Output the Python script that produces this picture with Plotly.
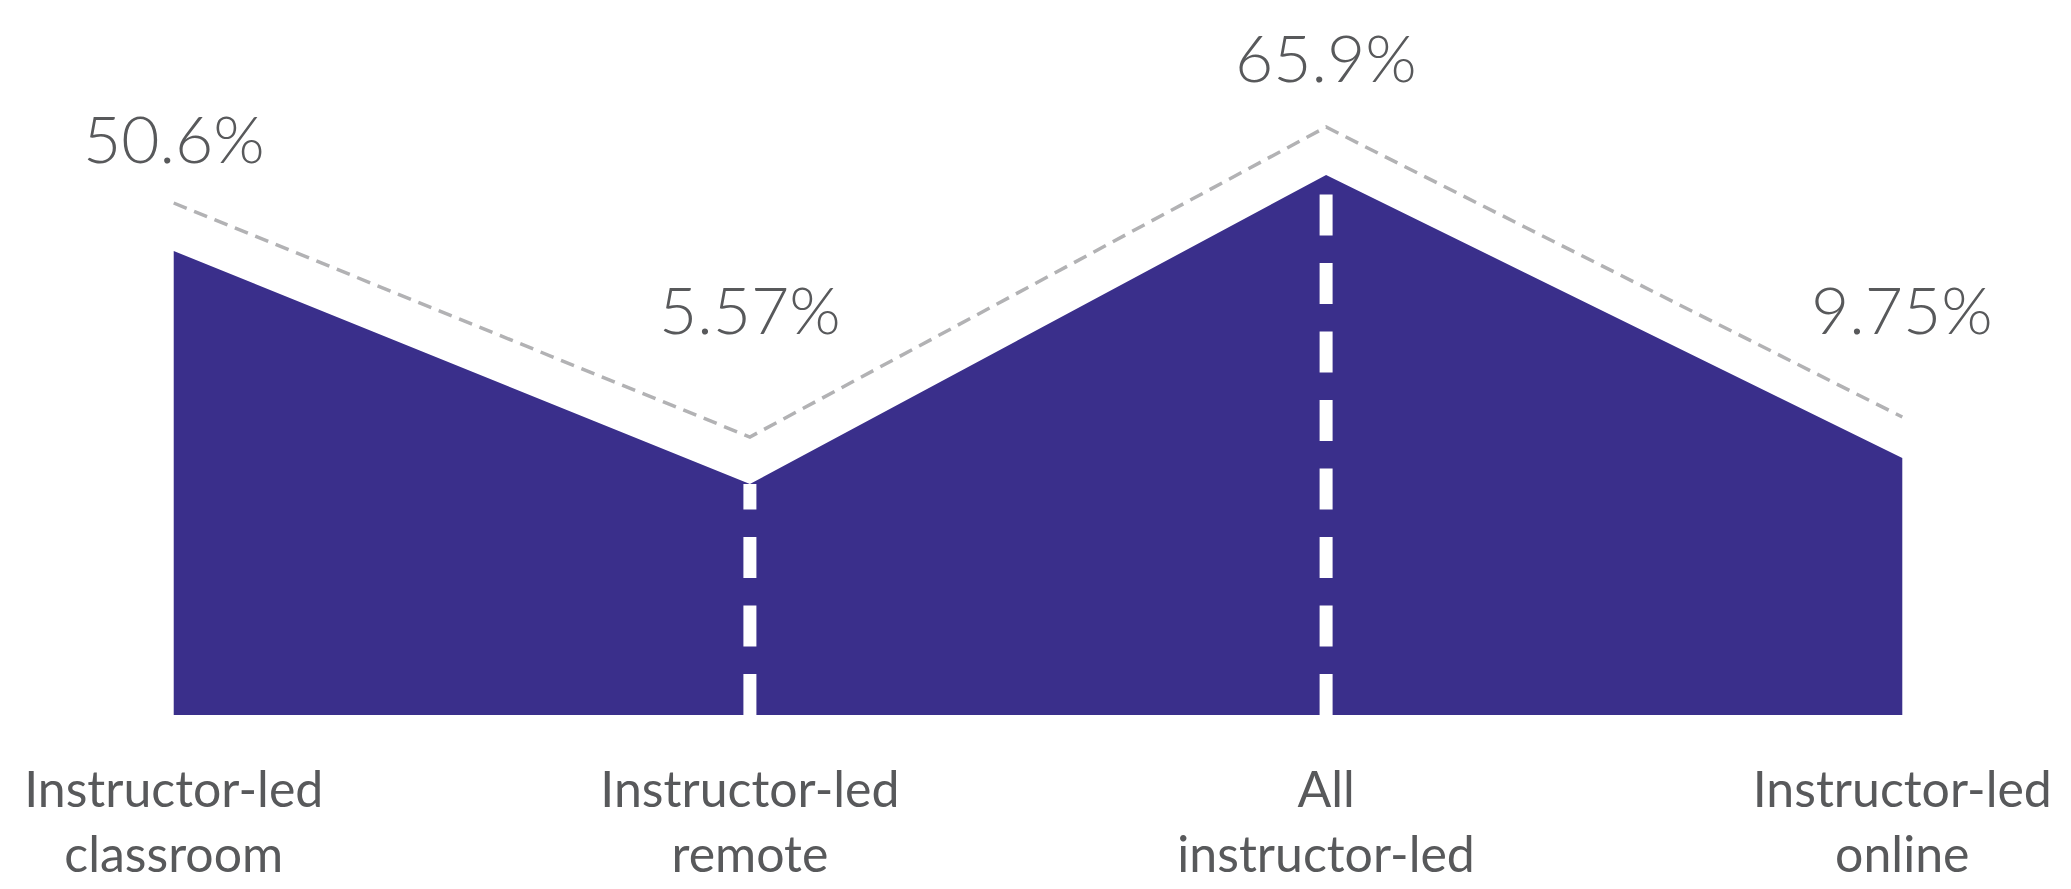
import plotly.graph_objects as go

# ---- data ----
categories = ["Instructor-led<br>classroom", "Instructor-led<br>remote",
              "All<br>instructor-led", "Instructor-led<br>online"]
value_labels = ["50.6%", "5.57%", "65.9%", "9.75%"]
area_heights = [46.4, 23.1, 54.0, 25.7]      # filled shape heights
guide_heights = [51.2, 27.8, 58.8, 29.8]     # dashed guide line heights
divider_idx = [1, 2]                          # white dashed dividers

# ---- styling / layout only ----
label_shift = [66, 129, 71, 109]              # px above the guide line
PURPLE = "#3a2f8b"
GREY_TXT = "#58595b"
x_idx = list(range(len(categories)))

fig = go.Figure()
fig.add_trace(go.Scatter(
    x=x_idx, y=area_heights, mode="lines", fill="tozeroy",
    fillcolor=PURPLE, line=dict(width=0, color=PURPLE), hoverinfo="skip",
    showlegend=False))
for i in divider_idx:
    fig.add_trace(go.Scatter(
        x=[i, i], y=[0, area_heights[i]], mode="lines",
        line=dict(color="white", width=13, dash="41px,27.5px"),
        hoverinfo="skip", showlegend=False))
fig.add_trace(go.Scatter(
    x=x_idx, y=guide_heights, mode="lines",
    line=dict(color="#b2b2b4", width=3.5, dash="14px,8px"),
    hoverinfo="skip", showlegend=False))

for i, t in enumerate(value_labels):
    fig.add_annotation(x=i, y=guide_heights[i], xref="x", yref="y",
                       text=t, showarrow=False, yanchor="middle",
                       yshift=label_shift[i],
                       font=dict(family="Lato", size=66, color=GREY_TXT, weight=300))

fig.update_layout(
    width=2071, height=889,
    margin=dict(l=0, r=0, t=0, b=174, autoexpand=False),
    plot_bgcolor="white", paper_bgcolor="white",
    xaxis=dict(range=[-0.3015, 3.2928], tickvals=x_idx, ticktext=categories,
               showgrid=False, zeroline=False, showline=False, ticks="",
               automargin=False,
               tickfont=dict(family="Lato", size=50, color=GREY_TXT),
               ticklabelstandoff=41),
    yaxis=dict(range=[0, 71.5], visible=False, showgrid=False, zeroline=False,
               automargin=False),
)

fig.write_html("out.html", config={"displayModeBar": False},
               post_script="document.body.style.margin='0';document.body.style.overflow='hidden';")
